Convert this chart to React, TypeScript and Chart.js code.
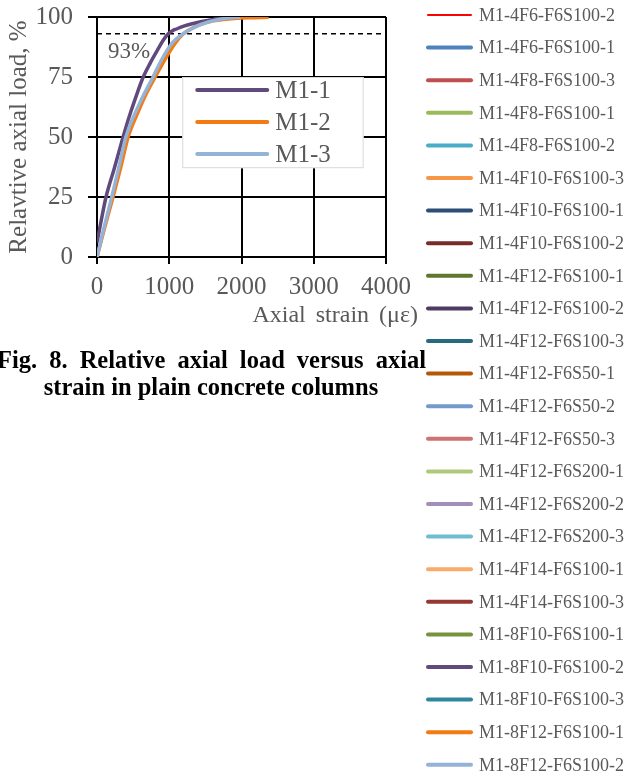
import React, { useEffect, useRef } from 'react';
import { Chart, registerables } from 'chart.js';

Chart.register(...registerables);

// ---- data ----
const strainM11 = [0, 60, 125, 240, 361, 430, 530, 640, 740, 833, 910, 986, 1040, 1100, 1200, 1290, 1450, 1611, 1750, 1850];
const loadM11 = [6, 15.5, 25, 37, 50, 57, 66, 75, 81, 86, 90, 93, 94.2, 95, 96.2, 97, 98.1, 99, 99.6, 100];

const strainM12 = [0, 100, 222, 330, 431, 570, 690, 806, 944, 1080, 1195, 1300, 1400, 1500, 1611, 1750, 1900, 2100, 2375];
const loadM12 = [0, 11.5, 25, 37.5, 50, 60.5, 68.5, 75, 82.5, 89, 93, 95, 96.5, 97.6, 98.4, 99, 99.4, 99.7, 99.9];

const strainM13 = [0, 100, 204, 300, 400, 590, 775, 900, 1050, 1195, 1350, 1528, 1750, 1986];
const loadM13 = [0, 12.5, 25, 37, 50, 64, 75, 82.5, 89.5, 93, 95.8, 97.8, 99.3, 100];

const insetLabels = ['M1-1', 'M1-2', 'M1-3'];
const insetColors = ['#604A7B', '#F47A12', '#95B3D7'];

const referenceLoad = 93;
const referenceLabel = '93%';

const xTickValues = [0, 1000, 2000, 3000, 4000];
const yTickValues = [0, 25, 50, 75, 100];

const specimenLabels = [
  'M1-4F6-F6S100-2', 'M1-4F6-F6S100-1', 'M1-4F8-F6S100-3', 'M1-4F8-F6S100-1',
  'M1-4F8-F6S100-2', 'M1-4F10-F6S100-3', 'M1-4F10-F6S100-1', 'M1-4F10-F6S100-2',
  'M1-4F12-F6S100-1', 'M1-4F12-F6S100-2', 'M1-4F12-F6S100-3', 'M1-4F12-F6S50-1',
  'M1-4F12-F6S50-2', 'M1-4F12-F6S50-3', 'M1-4F12-F6S200-1', 'M1-4F12-F6S200-2',
  'M1-4F12-F6S200-3', 'M1-4F14-F6S100-1', 'M1-4F14-F6S100-3', 'M1-8F10-F6S100-1',
  'M1-8F10-F6S100-2', 'M1-8F10-F6S100-3', 'M1-8F12-F6S100-1', 'M1-8F12-F6S100-2',
];
const specimenColors = [
  '#FF0000', '#4F81BD', '#C0504D', '#9BBB59', '#4BACC6', '#F79646', '#2C4D75', '#772C2A',
  '#5F7530', '#4D3B62', '#276A7C', '#B65708', '#729ACA', '#CD7371', '#AFC97A', '#A18FB7',
  '#6FBDD1', '#F9AB6B', '#953735', '#77933C', '#604A7B', '#31859C', '#F47A12', '#95B3D7',
];
const specimenWidths = [2, 4, 4, 4, 4, 4, 4, 4, 4, 4, 4, 4, 4, 4, 4, 4, 4, 4, 4, 4, 4, 4, 4, 4];

const FONT = '"Liberation Serif", "Times New Roman", serif';
const GRAY = '#595959';

const toPoints = (xs: number[], ys: number[]) => xs.map((x, i) => ({ x, y: ys[i] }));

const overlayPlugin = {
  id: 'overlay',
  afterDraw(chart: any) {
    const { ctx, chartArea, scales } = chart;
    const xs = scales.x;
    const ys = scales.y;
    ctx.save();

    // reference label
    ctx.font = `23px ${FONT}`;
    ctx.fillStyle = GRAY;
    ctx.textAlign = 'left';
    ctx.textBaseline = 'middle';
    ctx.fillText(referenceLabel, chartArea.left + 11, ys.getPixelForValue(referenceLoad) + 18);

    // inset legend
    const bx0 = xs.getPixelForValue(1180);
    const bx1 = xs.getPixelForValue(3690);
    const by0 = ys.getPixelForValue(75);
    const by1 = ys.getPixelForValue(37);
    ctx.fillStyle = '#FFFFFF';
    ctx.fillRect(bx0, by0, bx1 - bx0, by1 - by0);
    ctx.strokeStyle = '#D9D9D9';
    ctx.lineWidth = 1;
    ctx.strokeRect(bx0 + 0.5, by0 + 0.5, bx1 - bx0 - 1, by1 - by0 - 1);
    ctx.font = `25px ${FONT}`;
    ctx.textBaseline = 'middle';
    insetLabels.forEach((lab, i) => {
      const y = by0 + 13 + i * 32;
      ctx.strokeStyle = insetColors[i];
      ctx.lineWidth = 4;
      ctx.lineCap = 'round';
      ctx.beginPath();
      ctx.moveTo(bx0 + 15, y);
      ctx.lineTo(bx0 + 85, y);
      ctx.stroke();
      ctx.fillStyle = GRAY;
      ctx.fillText(lab, bx0 + 93, y + 1);
    });

    // x axis title
    ctx.font = `24px ${FONT}`;
    ctx.fillStyle = GRAY;
    ctx.textAlign = 'right';
    ctx.textBaseline = 'alphabetic';
    (ctx as any).wordSpacing = '4px';
    ctx.fillText('Axial strain (\u03BC\u03B5)', chartArea.right + 32, chartArea.bottom + 65);
    (ctx as any).wordSpacing = '0px';

    // specimen legend
    ctx.font = `18px ${FONT}`;
    ctx.textAlign = 'left';
    ctx.textBaseline = 'middle';
    specimenLabels.forEach((lab, i) => {
      const y = 15 + i * 32.6;
      ctx.strokeStyle = specimenColors[i];
      ctx.lineWidth = specimenWidths[i];
      ctx.lineCap = 'round';
      ctx.beginPath();
      ctx.moveTo(428, y);
      ctx.lineTo(471, y);
      ctx.stroke();
      ctx.fillStyle = GRAY;
      ctx.fillText(lab, 479, y + 1);
    });
    ctx.restore();
  },
};

export default function App() {
  const canvasRef = useRef<HTMLCanvasElement | null>(null);

  useEffect(() => {
    if (!canvasRef.current) return;
    const chart = new Chart(canvasRef.current, {
      type: 'line',
      data: {
        datasets: [
          {
            label: insetLabels[2],
            data: toPoints(strainM13, loadM13),
            borderColor: insetColors[2],
            borderWidth: 3.5,
            pointRadius: 0,
            cubicInterpolationMode: 'monotone',
            fill: false,
          },
          {
            label: insetLabels[0],
            data: toPoints(strainM11, loadM11),
            borderColor: insetColors[0],
            borderWidth: 3.5,
            pointRadius: 0,
            cubicInterpolationMode: 'monotone',
            fill: false,
          },
          {
            label: insetLabels[1],
            data: toPoints(strainM12, loadM12),
            borderColor: insetColors[1],
            borderWidth: 3.5,
            pointRadius: 0,
            cubicInterpolationMode: 'monotone',
            fill: false,
          },
          {
            label: referenceLabel,
            data: [
              { x: xTickValues[0], y: referenceLoad },
              { x: xTickValues[xTickValues.length - 1], y: referenceLoad },
            ],
            borderColor: '#000000',
            borderWidth: 1.5,
            borderDash: [5, 4],
            pointRadius: 0,
            fill: false,
          },
        ],
      } as any,
      options: {
        responsive: false,
        animation: false,
        devicePixelRatio: 1,
        layout: { padding: { left: 0, top: 17, right: 247, bottom: 459 } },
        plugins: {
          legend: { display: false },
          tooltip: { enabled: false },
        },
        scales: {
          x: {
            type: 'linear',
            min: xTickValues[0],
            max: xTickValues[xTickValues.length - 1],
            afterBuildTicks: (s: any) => {
              s.ticks = xTickValues.map((v) => ({ value: v }));
            },
            afterFit: (s: any) => {
              s.height = 60;
              s.paddingLeft = 0;
              s.paddingRight = 0;
            },
            ticks: {
              color: GRAY,
              font: { family: FONT, size: 25 },
              padding: 8,
              maxRotation: 0,
              callback: (v: any) => String(v),
            },
            grid: { color: '#000000', lineWidth: 2, tickLength: 7, drawTicks: true },
            border: { color: '#000000', width: 2 },
          },
          y: {
            type: 'linear',
            min: yTickValues[0],
            max: yTickValues[yTickValues.length - 1],
            afterBuildTicks: (s: any) => {
              s.ticks = yTickValues.map((v) => ({ value: v }));
            },
            afterFit: (s: any) => {
              s.width = 97;
              s.paddingTop = 0;
              s.paddingBottom = 0;
            },
            ticks: {
              color: GRAY,
              font: { family: FONT, size: 25 },
              padding: 15,
              callback: (v: any) => String(v),
            },
            grid: { color: '#000000', lineWidth: 2, tickLength: 9, drawTicks: true },
            border: { color: '#000000', width: 2 },
            title: {
              display: true,
              text: 'Relavtive axial load, %',
              color: GRAY,
              font: { family: FONT, size: 25 },
              padding: { top: 4, bottom: 0 },
            },
          },
        },
      } as any,
      plugins: [overlayPlugin],
    });
    return () => chart.destroy();
  }, []);

  const capBase: React.CSSProperties = {
    position: 'absolute',
    fontFamily: FONT,
    fontWeight: 'bold',
    fontSize: 24.5,
    lineHeight: '27px',
    color: '#000000',
    whiteSpace: 'nowrap',
  };

  return (
    <div style={{ position: 'absolute', left: 0, top: 0, width: 633, height: 776, background: '#FFFFFF', overflow: 'hidden' }}>
      <canvas ref={canvasRef} width={633} height={776} style={{ position: 'absolute', left: 0, top: 0, width: 633, height: 776 }} />
      <div style={{ ...capBase, left: -3, top: 346, width: 429, textAlign: 'justify', textAlignLast: 'justify' } as any}>
        Fig. 8. Relative axial load versus axial
      </div>
      <div style={{ ...capBase, left: 0, top: 373, width: 422, textAlign: 'center' }}>
        strain in plain concrete columns
      </div>
    </div>
  );
}
